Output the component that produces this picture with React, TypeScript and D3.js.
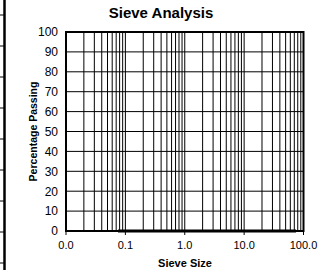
import React from "react";
import * as d3 from "d3";

// sieve data (mm) and percentage passing
const sieveSizes = [75, 63, 37.5, 19, 9.5, 4.75, 2.36, 1.18, 0.6, 0.3, 0.15, 0.075];
const passing = [0, 0, 0, 0, 0, 0, 0, 0, 0, 0, 0, 0];

const xTicks = [0.01, 0.1, 1, 10, 100];
const yTicks = [0, 10, 20, 30, 40, 50, 60, 70, 80, 90, 100];

const W = 330;
const H = 270;
const margin = { top: 32, right: 26.5, bottom: 39, left: 66 };

const font = "'Liberation Sans', Arial, sans-serif";

const App = () => {
  const x = d3.scaleLog().domain([0.01, 100]).range([margin.left, W - margin.right]);
  const y = d3.scaleLinear().domain([0, 100]).range([H - margin.bottom, margin.top]);

  // minor log grid: 1..9 x 10^d
  const vGrid: number[] = [];
  [0.01, 0.1, 1, 10].forEach(d => {
    for (let k = 2; k <= 9; k++) vGrid.push(k * d);
  });
  vGrid.push(0.1, 1, 10);

  const line = d3.line<number>()
    .x((d, i) => x(sieveSizes[i]))
    .y(d => y(d));

  // stray tick bar at the far left edge
  const edge = d3.scaleLinear().domain([0, 8]).range([15, 263]);

  const [x0, x1] = x.range();
  const [y0, y1] = y.range();

  return (
    <svg width={W} height={H} style={{ position: "absolute", left: 0, top: 0 }} fontFamily={font}>
      <rect width={W} height={H} fill="#fff" />
      <line x1={4.5} x2={4.5} y1={0} y2={H} stroke="#000" strokeWidth={2.5} />
      {d3.range(9).map(i => (
        <line key={i} x1={0} x2={4} y1={edge(i)} y2={edge(i)} stroke="#000" strokeWidth={1} />
      ))}

      {vGrid.map((v, i) => (
        <line key={"v" + i} x1={x(v)} x2={x(v)} y1={y1} y2={y0} stroke="#000" strokeWidth={1} />
      ))}
      {yTicks.slice(1, -1).map(v => (
        <line key={"h" + v} x1={x0} x2={x1} y1={y(v)} y2={y(v)} stroke="#000" strokeWidth={1} />
      ))}

      <rect x={x0} y={y1} width={x1 - x0} height={y0 - y1} fill="none" stroke="#000" strokeWidth={2} />

      {xTicks.map(v => (
        <line key={"xt" + v} x1={x(v)} x2={x(v)} y1={y0} y2={y0 + 4} stroke="#000" strokeWidth={1} />
      ))}

      <path d={line(passing) || ""} fill="none" stroke="#000" strokeWidth={3} />

      {yTicks.map(v => (
        <text key={"yl" + v} x={x0 - 8} y={y(v)} dy="0.36em" textAnchor="end" fontSize={12}>{v}</text>
      ))}
      {xTicks.map(v => (
        <text key={"xl" + v} x={x(v)} y={y0 + 18} textAnchor="middle" fontSize={11}>{v.toFixed(1)}</text>
      ))}

      <text x={161} y={18} textAnchor="middle" fontSize={15} fontWeight="bold">Sieve Analysis</text>
      <text x={185} y={267} textAnchor="middle" fontSize={11} fontWeight="bold">Sieve Size</text>
      <text transform={`translate(37,${(y0 + y1) / 2}) rotate(-90)`} textAnchor="middle" fontSize={10.5} fontWeight="bold">Percentage Passing</text>
    </svg>
  );
};

export default App;
